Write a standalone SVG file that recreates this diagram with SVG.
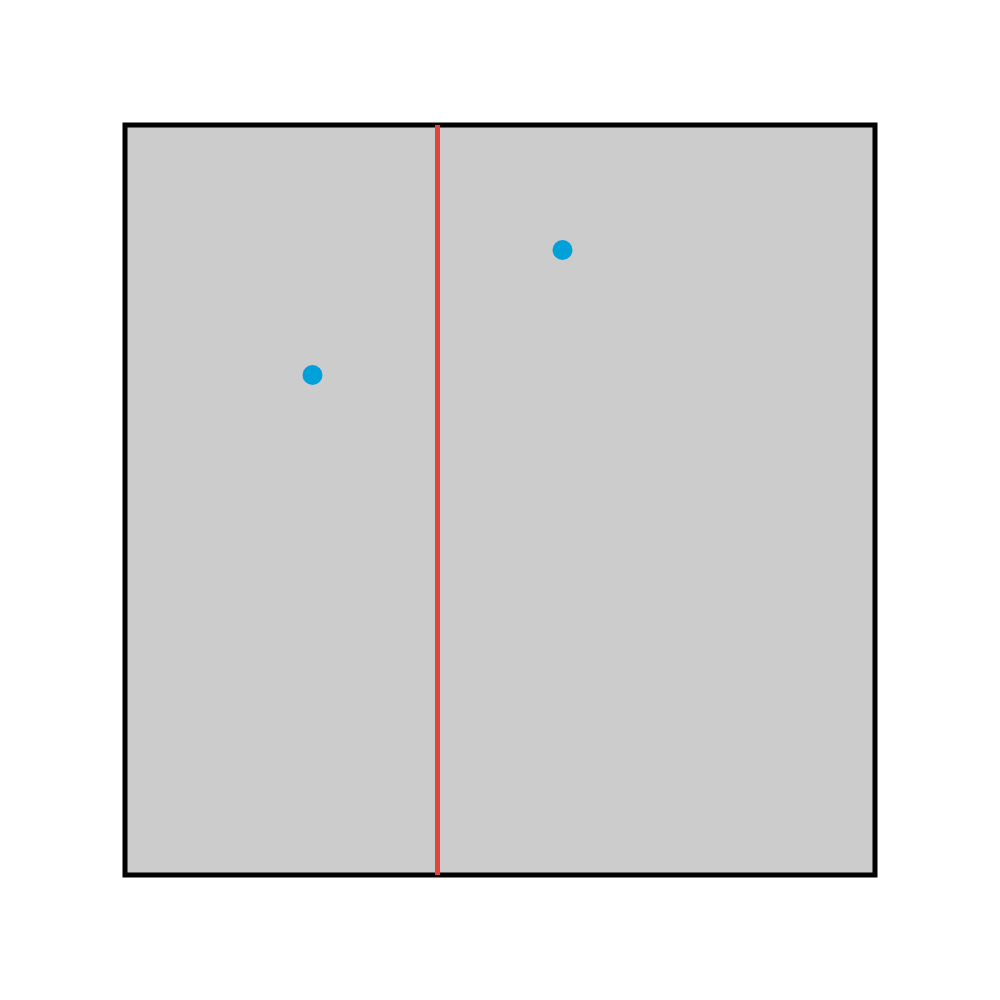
<svg xmlns="http://www.w3.org/2000/svg" width="1000" height="1000" viewBox="0 0 1000 1000">
<style>
.dot{fill:#00a0da}
</style>
<rect width="1000" height="1000" fill="#ffffff"/>
<g id="region">
<rect x="125" y="125" width="750" height="750" fill="#cccccc" stroke="#000000" stroke-width="5"/>
</g>
<g id="connectors">
<line x1="437.5" y1="125" x2="437.5" y2="875" stroke="#e0443a" stroke-width="5"/>
</g>
<g id="point1"><circle class="dot" cx="312.5" cy="375" r="10"/></g>
<g id="point2"><circle class="dot" cx="562.5" cy="250" r="10"/></g>
</svg>
